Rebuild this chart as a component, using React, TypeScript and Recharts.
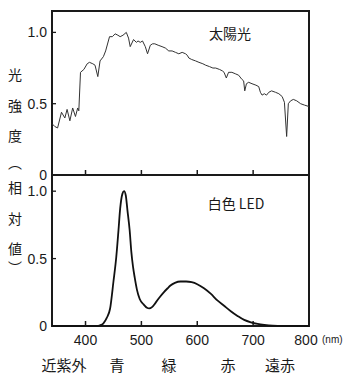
import React from 'react';
import { LineChart, Line, XAxis, YAxis, ReferenceArea } from 'recharts';

// sunlight spectrum (relative)
const sunWavelength = [
  340, 345, 350, 357, 363, 367, 372, 377, 382, 386, 388, 391, 397, 403, 407, 413,
  417, 422, 426, 432, 436, 443, 448, 453, 458, 462, 467, 473, 477, 480, 486, 491,
  494, 498, 502, 507, 511, 516, 520, 524, 530, 537, 543, 549, 555, 561, 567, 573,
  579, 582, 585, 590, 597, 603, 610, 615, 622, 628, 633, 640, 645, 648, 652, 656,
  662, 668, 674, 680, 683, 685, 688, 692, 698, 705, 710, 713, 716, 720, 724, 728,
  733, 740, 746, 752, 756, 760, 763, 767, 772, 778, 785, 792, 800,
];
const sunIntensity = [
  0.36, 0.34, 0.33, 0.44, 0.4, 0.46, 0.38, 0.47, 0.41, 0.47, 0.45, 0.72, 0.74, 0.78, 0.79, 0.78,
  0.77, 0.69, 0.8, 0.83, 0.87, 0.97, 0.97, 0.99, 0.98, 0.97, 0.98, 1.0, 0.96, 0.9, 0.95, 0.93,
  0.94, 0.93, 0.94, 0.9, 0.85, 0.91, 0.92, 0.92, 0.91, 0.9, 0.89, 0.87, 0.87, 0.86, 0.85, 0.86,
  0.85, 0.84, 0.82, 0.81, 0.8, 0.79, 0.78, 0.77, 0.76, 0.75, 0.75, 0.74, 0.73, 0.72, 0.68, 0.72,
  0.72, 0.71, 0.7, 0.67, 0.66, 0.59, 0.64, 0.65, 0.64, 0.63, 0.62, 0.58, 0.56, 0.57, 0.56, 0.58,
  0.59, 0.58, 0.57, 0.55, 0.51, 0.27, 0.5, 0.52, 0.53, 0.52, 0.5, 0.49, 0.48,
];

// white LED spectrum (relative)
const ledWavelength = [
  340, 420, 426, 432, 438, 444, 450, 455, 459, 462, 466, 469, 472, 475, 479, 482,
  485, 488, 492, 497, 504, 510, 514, 519, 525, 532, 540, 547, 552, 560, 570, 580,
  590, 600, 612, 624, 636, 648, 660, 672, 684, 696, 708, 720, 735, 760, 800,
];
const ledIntensity = [
  0, 0, 0.005, 0.02, 0.06, 0.13, 0.33, 0.51, 0.71, 0.87, 0.98, 1.0, 0.97, 0.86, 0.71, 0.55,
  0.44, 0.36, 0.27, 0.2, 0.16, 0.135, 0.13, 0.14, 0.17, 0.21, 0.25, 0.28, 0.3, 0.32, 0.33, 0.33,
  0.325, 0.31, 0.28, 0.24, 0.19, 0.15, 0.11, 0.075, 0.045, 0.027, 0.015, 0.008, 0.003, 0.001, 0,
];

const xTicks = [400, 500, 600, 700, 800];
const yTicks = [0, 0.5, 1];
const yLabelChars = ['光', '強', '度', '︵', '相', '対', '値', '︶'];
const bandLabels = ['近紫外', '青', '緑', '赤', '遠赤'];

const sunData = sunWavelength.map((nm, i) => ({ nm, v: sunIntensity[i] }));
const ledData = ledWavelength.map((nm, i) => ({ nm, v: ledIntensity[i] }));

const INK = '#1a1a1a';
const NUM_FONT = '"Liberation Sans", Arial, sans-serif';
const CJK_FONT = '"Noto Sans CJK JP", "Noto Sans", sans-serif';

const charTops = [74, 105, 135, 162, 187, 218, 248, 267];
const bandCenters = [64, 117, 169, 228, 280];

const XTick = (props: any) => {
  const { x, y, payload, showLabel } = props;
  const last = payload.value === 800;
  return (
    <g>
      {!last && <line x1={x} x2={x} y1={y} y2={y - 5} stroke={INK} strokeWidth={1.5} />}
      {showLabel && (
        <text
          x={last ? x - 3 : x}
          y={y + 19}
          textAnchor='middle'
          fontSize={14}
          fill={INK}
          fontFamily={NUM_FONT}
        >
          {payload.value}
        </text>
      )}
    </g>
  );
};

const YTick = (props: any) => {
  const { x, y, payload } = props;
  const v = payload.value;
  return (
    <g>
      {v !== 0 && <line x1={x - 1} x2={x + 4} y1={y} y2={y} stroke={INK} strokeWidth={1.3} />}
      <text
        x={x - 5}
        y={y + 5}
        textAnchor='end'
        fontSize={14}
        fill={INK}
        fontFamily={NUM_FONT}
      >
        {v === 0 ? '0' : v.toFixed(1)}
      </text>
    </g>
  );
};

const Panel = ({ data, top, yMax, strokeW, color, curve, showLabel, height, xh }: any) => (
  <LineChart
    width={350}
    height={height}
    data={data}
    margin={{ top, right: 41, left: 0, bottom: 0 }}
  >
    <XAxis
      dataKey='nm'
      type='number'
      domain={[340, 800]}
      ticks={xTicks}
      interval={0}
      height={xh}
      axisLine={false}
      tickLine={false}
      tickSize={0}
      tickMargin={0}
      tick={(p: any) => <XTick {...p} showLabel={showLabel} />}
    />
    <YAxis
      type='number'
      domain={[0, yMax]}
      ticks={yTicks}
      interval={0}
      width={52}
      axisLine={false}
      tickLine={false}
      tickSize={0}
      tickMargin={0}
      tick={(p: any) => <YTick {...p} />}
    />
    <ReferenceArea
      x1={340}
      x2={800}
      y1={0}
      y2={yMax}
      fill='none'
      stroke={INK}
      strokeWidth={2}
      fillOpacity={0}
    />
    <Line
      type={curve}
      dataKey='v'
      stroke={color}
      strokeWidth={strokeW}
      dot={false}
      isAnimationActive={false}
    />
  </LineChart>
);

export default function App() {
  return (
    <div
      style={{
        position: 'absolute',
        left: 0,
        top: 0,
        width: 350,
        height: 378,
        background: '#fff',
        overflow: 'hidden',
      }}
    >
      <div style={{ position: 'absolute', left: 0, top: 0 }}>
        <Panel
          data={sunData}
          top={11}
          yMax={1.15}
          strokeW={1}
          color='#333'
          curve='linear'
          showLabel={false}
          height={185}
          xh={10}
        />
      </div>
      <div style={{ position: 'absolute', left: 0, top: 170 }}>
        <Panel
          data={ledData}
          top={5}
          yMax={1.12}
          strokeW={1.8}
          color='#111'
          curve='monotone'
          showLabel={true}
          height={180}
          xh={24}
        />
      </div>

      {yLabelChars.map((c, i) => (
        <div
          key={i}
          style={{
            position: 'absolute',
            left: 5,
            width: 20,
            top: charTops[i] - 9,
            height: 18,
            lineHeight: '18px',
            textAlign: 'center',
            fontSize: 14,
            fontFamily: CJK_FONT,
            color: INK,
          }}
        >
          {c}
        </div>
      ))}

      {bandLabels.map((t, i) => (
        <div
          key={t}
          style={{
            position: 'absolute',
            left: bandCenters[i] - 40,
            width: 80,
            top: 356,
            lineHeight: '18px',
            textAlign: 'center',
            fontSize: 15,
            fontFamily: CJK_FONT,
            color: INK,
          }}
        >
          {t}
        </div>
      ))}

      <div
        style={{
          position: 'absolute',
          left: 190,
          width: 80,
          top: 24,
          lineHeight: '18px',
          textAlign: 'center',
          fontSize: 14,
          fontFamily: CJK_FONT,
          color: INK,
        }}
      >
        太陽光
      </div>
      <div
        style={{
          position: 'absolute',
          left: 186,
          width: 100,
          top: 194,
          lineHeight: '18px',
          textAlign: 'center',
          fontSize: 14,
          fontFamily: CJK_FONT,
          color: INK,
        }}
      >
        白色 LED
      </div>
      <div
        style={{
          position: 'absolute',
          left: 322,
          top: 333,
          lineHeight: '14px',
          fontSize: 10,
          fontFamily: NUM_FONT,
          color: INK,
        }}
      >
        (nm)
      </div>
    </div>
  );
}
